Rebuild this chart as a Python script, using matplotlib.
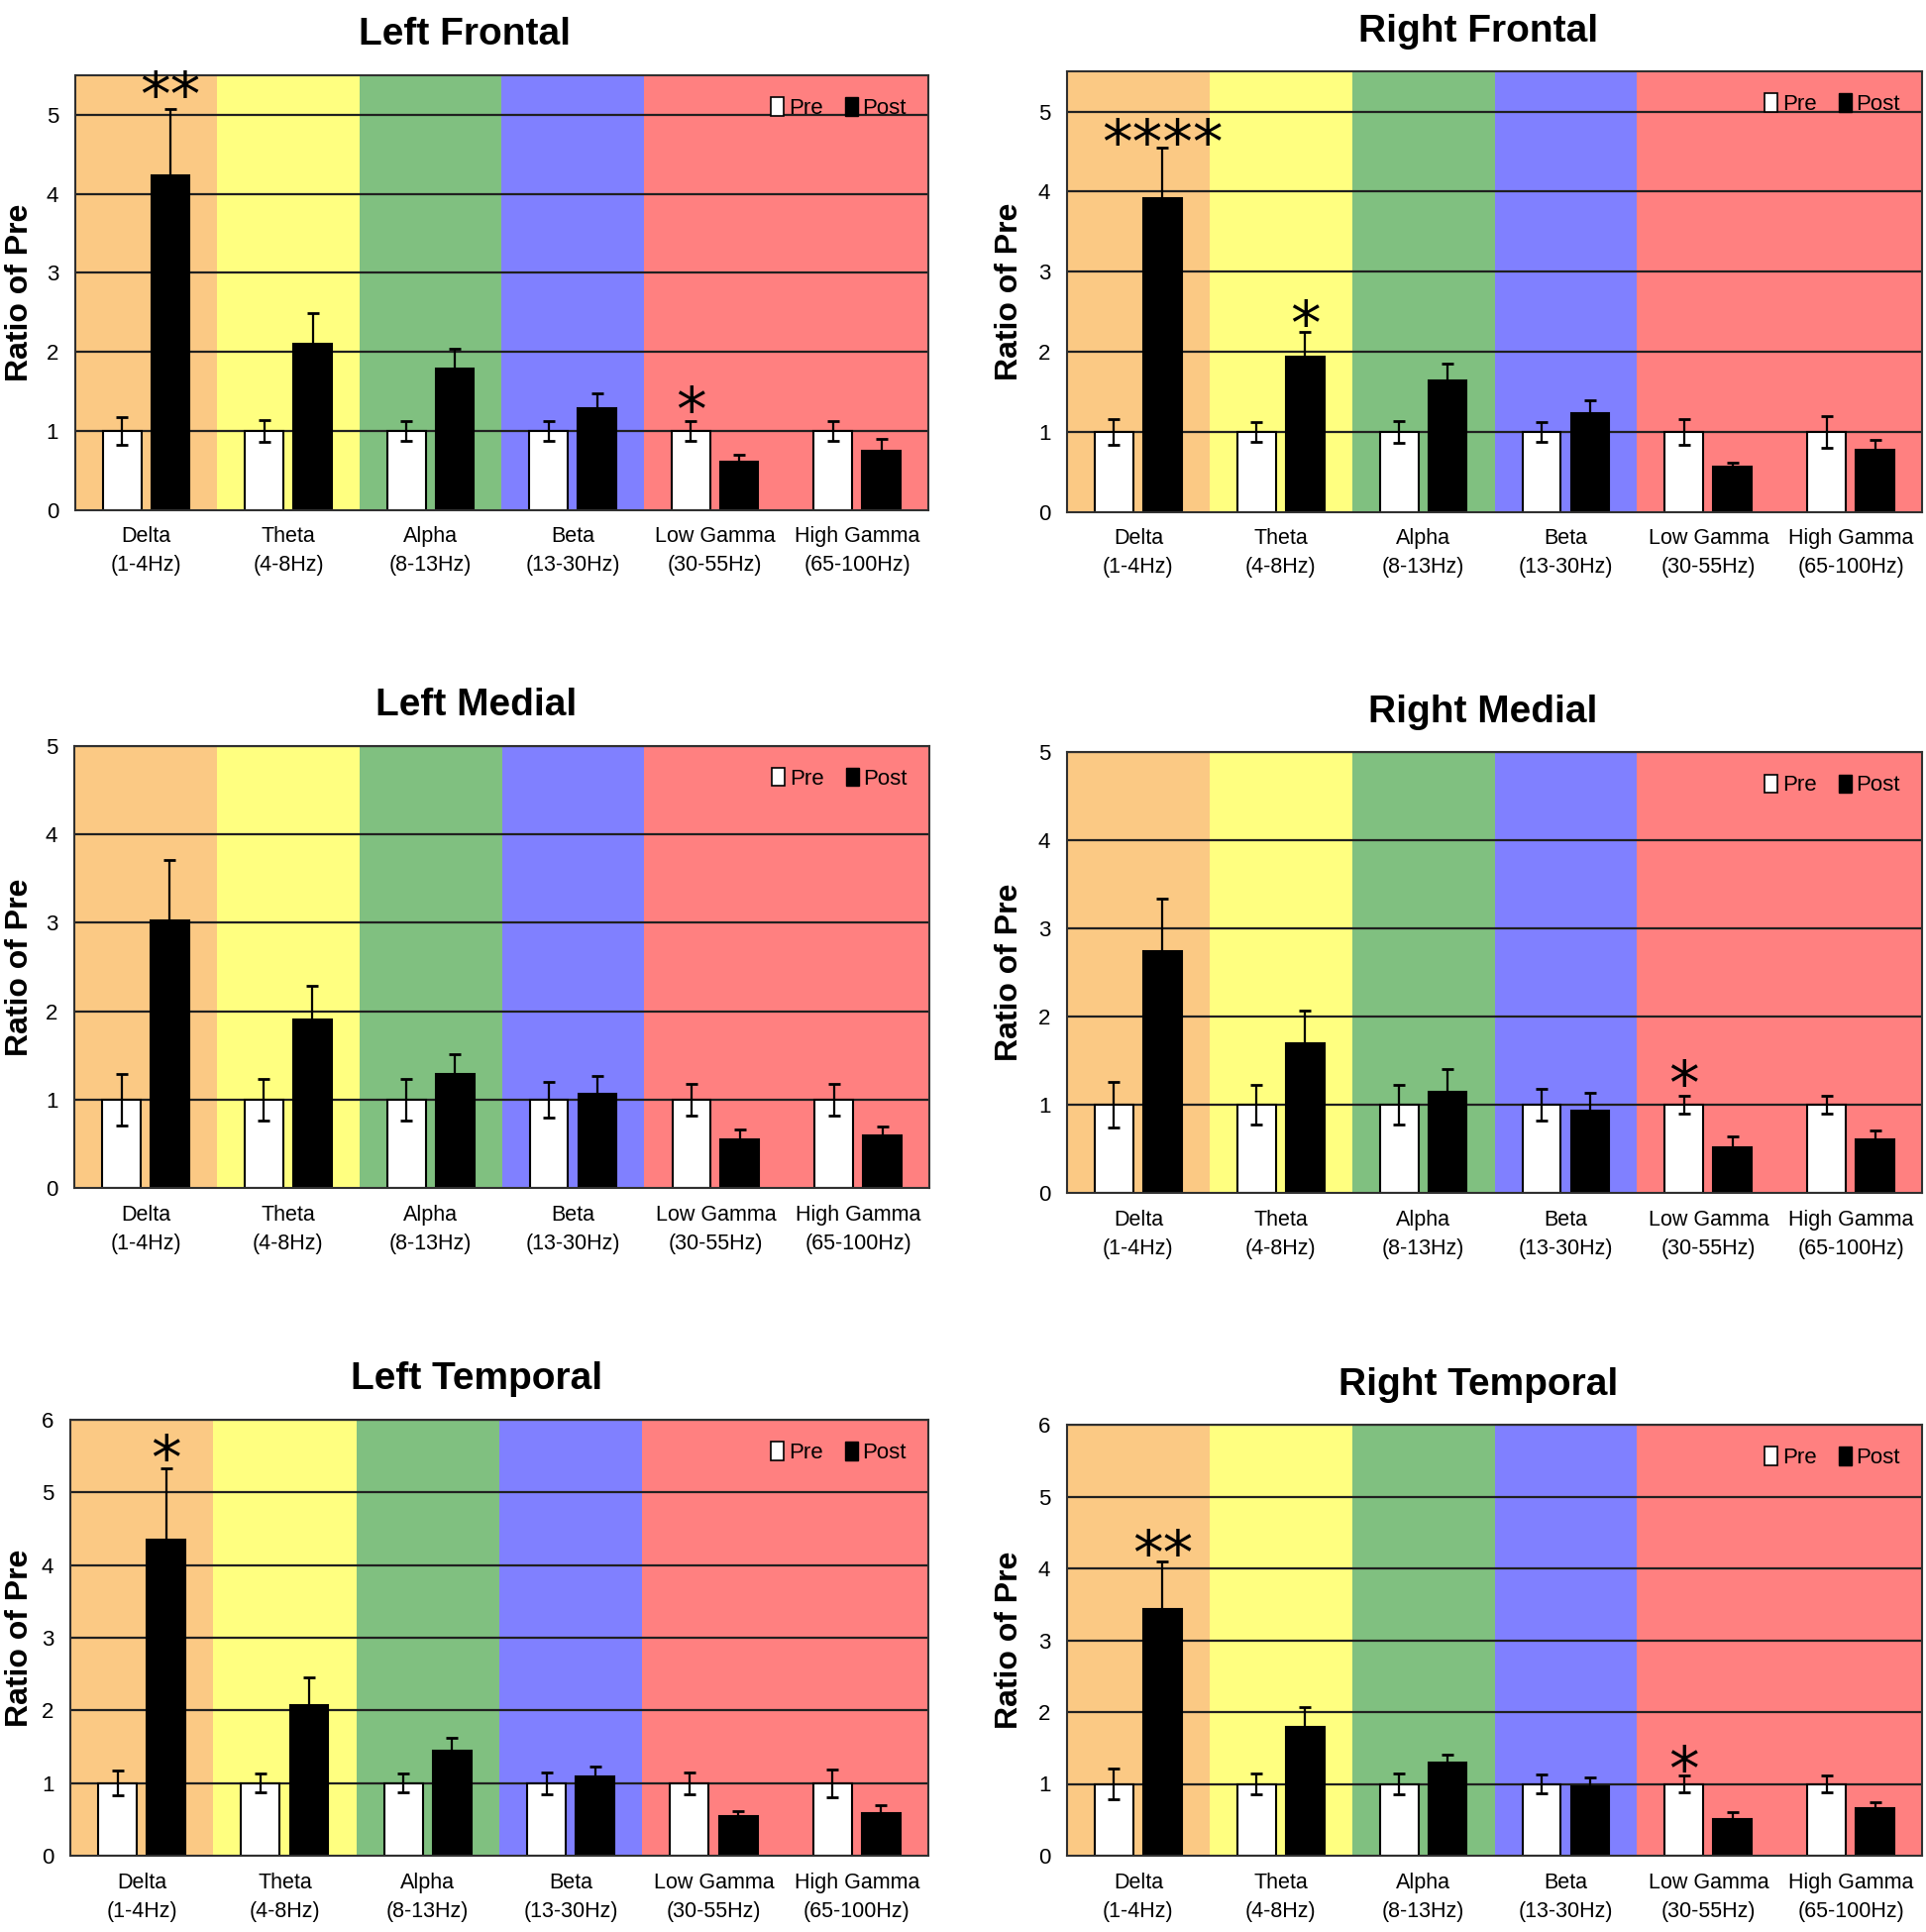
import matplotlib
matplotlib.use('Agg')
import matplotlib.pyplot as plt
import numpy as np
from matplotlib.patches import Patch

bands = ['Delta\n(1-4Hz)', 'Theta\n(4-8Hz)', 'Alpha\n(8-13Hz)', 'Beta\n(13-30Hz)',
         'Low Gamma\n(30-55Hz)', 'High Gamma\n(65-100Hz)']
band_colors = ['#fbc984', '#ffff80', '#80c080', '#8080ff', '#ff8080', '#ff8080']

titles = ['Left Frontal', 'Right Frontal', 'Left Medial', 'Right Medial',
          'Left Temporal', 'Right Temporal']
ymax = [5.5, 5.5, 5, 5, 6, 6]

pre = [1.0, 1.0, 1.0, 1.0, 1.0, 1.0]
pre_err = [
    [0.17, 0.135, 0.12, 0.12, 0.12, 0.12],
    [0.16, 0.125, 0.14, 0.125, 0.16, 0.20],
    [0.29, 0.24, 0.24, 0.20, 0.18, 0.18],
    [0.26, 0.23, 0.23, 0.18, 0.10, 0.10],
    [0.17, 0.13, 0.13, 0.15, 0.15, 0.19],
    [0.21, 0.14, 0.14, 0.13, 0.12, 0.12],
]
post = [
    [4.23, 2.10, 1.79, 1.29, 0.61, 0.75],
    [3.92, 1.94, 1.64, 1.24, 0.565, 0.78],
    [3.03, 1.91, 1.29, 1.07, 0.55, 0.60],
    [2.74, 1.70, 1.15, 0.93, 0.52, 0.61],
    [4.35, 2.07, 1.45, 1.09, 0.55, 0.58],
    [3.44, 1.79, 1.29, 0.96, 0.51, 0.66],
]
post_err = [
    [0.84, 0.39, 0.25, 0.19, 0.09, 0.15],
    [0.63, 0.31, 0.21, 0.16, 0.055, 0.12],
    [0.68, 0.38, 0.22, 0.20, 0.11, 0.10],
    [0.60, 0.37, 0.26, 0.21, 0.12, 0.10],
    [0.98, 0.39, 0.17, 0.14, 0.07, 0.12],
    [0.66, 0.28, 0.12, 0.13, 0.09, 0.09],
]
# significance marks: (band index, 'pre'/'post', text, y of star centre)
stars = [
    [(0, 'post', '**', 5.44), (4, 'pre', '*', 1.45)],
    [(0, 'post', '****', 4.79), (1, 'post', '*', 2.53)],
    [],
    [(4, 'pre', '*', 1.40)],
    [(0, 'post', '*', 5.67)],
    [(0, 'post', '**', 4.41), (4, 'pre', '*', 1.41)],
]

# axes boxes in figure fractions (left, bottom, width, height)
boxes = [
    [0.039, 0.736, 0.443, 0.225],
    [0.554, 0.735, 0.444, 0.228],
    [0.0386, 0.385, 0.444, 0.229],
    [0.554, 0.3826, 0.444, 0.228],
    [0.0365, 0.0395, 0.4455, 0.2256],
    [0.554, 0.0395, 0.444, 0.223],
]
title_x = [0.457, 0.481, 0.47, 0.486, 0.473, 0.481]
# y label centre, in figure fraction
ylabel_fx = [0.0105, 0.524, 0.0105, 0.524, 0.0105, 0.524]

font = ['Liberation Sans', 'DejaVu Sans']

fig = plt.figure(figsize=(19.44, 19.50), dpi=100)
x = np.arange(len(bands))
w = 0.27
off = 0.17
star_size = 44

for k in range(6):
    ax = fig.add_axes(boxes[k])
    for i, c in enumerate(band_colors):
        ax.axvspan(i - 0.5, i + 0.5, color=c, lw=0, zorder=0)
    for yy in range(1, int(ymax[k]) + 1):
        ax.axhline(yy, color='#202020', lw=1.6, zorder=1)
    ax.bar(x - off, pre, w, color='white', edgecolor='black', lw=1.5, zorder=2)
    ax.bar(x + off, post[k], w, color='black', edgecolor='black', lw=1.5, zorder=2)
    ax.errorbar(x - off, pre, yerr=pre_err[k], fmt='none', ecolor='black',
                elinewidth=1.6, capsize=4, capthick=2, zorder=3)
    ax.errorbar(x + off, post[k], yerr=[[0] * 6, post_err[k]], fmt='none', ecolor='black',
                elinewidth=1.6, capsize=4, capthick=2, zorder=3)
    for (bi, which, txt, yy) in stars[k]:
        xx = bi - off if which == 'pre' else bi + off
        # glyph centre of '*' sits about 0.57 em above baseline
        ax.annotate(txt, (xx, yy), xytext=(0, -0.57 * star_size), textcoords='offset points',
                    ha='center', va='baseline', fontsize=star_size,
                    family='DejaVu Sans', zorder=4)
    ax.set_xlim(-0.5, 5.5)
    ax.set_ylim(0, ymax[k])
    ax.set_yticks(range(0, int(ymax[k]) + 1))
    ax.set_xticks(x)
    ax.set_xticklabels(bands, family=font, fontsize=15.5, linespacing=1.5)
    for lab in ax.get_yticklabels():
        lab.set_family(font)
        lab.set_fontsize(16)
    ax.tick_params(length=0)
    ax.tick_params(axis='y', pad=12)
    ax.tick_params(axis='x', pad=12)
    for s in ax.spines.values():
        s.set_color('#303030')
        s.set_linewidth(1.5)
    ax.set_title(titles[k], family=font, fontsize=28, fontweight='bold', pad=22, x=title_x[k])
    ax.set_ylabel('Ratio of Pre', family='Liberation Sans', fontsize=23,
                  fontweight='bold', va='center')
    ax.yaxis.set_label_coords((ylabel_fx[k] - boxes[k][0]) / boxes[k][2], 0.5)
    handles = [Patch(facecolor='white', edgecolor='black', lw=1.2),
               Patch(facecolor='black', edgecolor='black')]
    ax.legend(handles, ['Pre', 'Post'], loc='upper right', ncol=2, frameon=False,
              prop={'family': font, 'size': 16}, handlelength=0.6, handleheight=0.9,
              handletextpad=0.2, columnspacing=1.0, borderaxespad=0.6)

fig.savefig('out.png', dpi=100)
